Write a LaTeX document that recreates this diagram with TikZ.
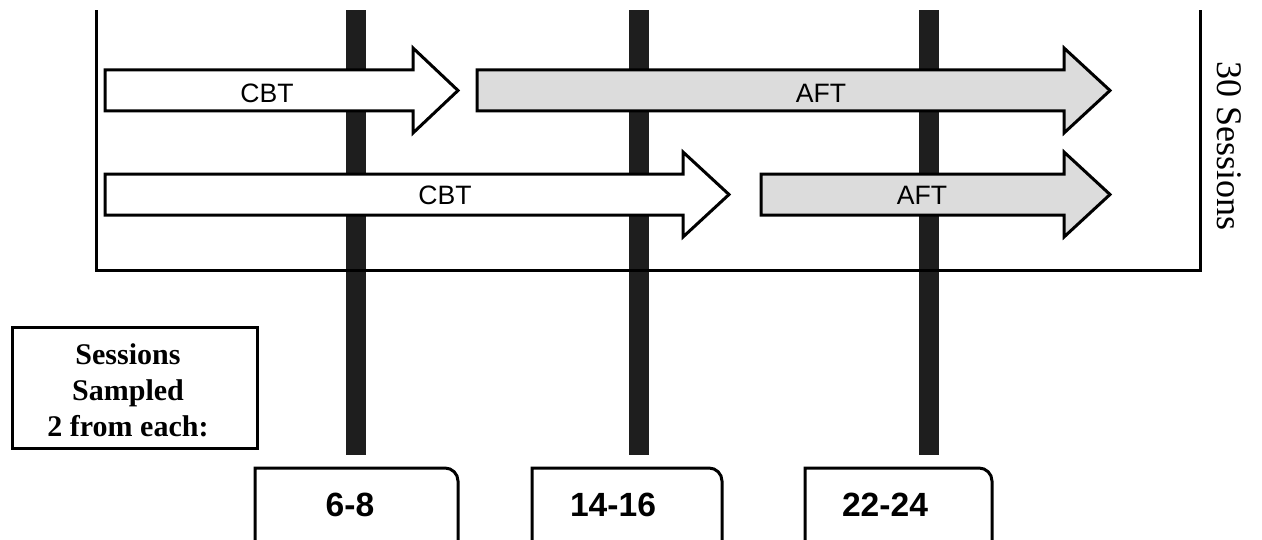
\documentclass[tikz,border=0pt]{standalone}
\usepackage{fontspec}
\setmainfont{Liberation Serif}
\newfontfamily\arialfont{Liberation Sans}
\definecolor{barcol}{HTML}{1E1E1E}
\definecolor{aftfill}{HTML}{DCDCDC}
\tikzset{
  frameline/.style={line width=1.5pt, line cap=rect},
  sessbar/.style={fill=barcol, draw=none},
  phase/.style={draw=black, line width=1.5pt, line join=miter},
  cbtphase/.style={phase, fill=white},
  aftphase/.style={phase, fill=aftfill},
  phaselabel/.style={font=\arialfont\fontsize{13.3}{16}\selectfont, inner sep=0pt},
  rangebox/.style={draw=black, line width=1.5pt, fill=white},
  rangelabel/.style={font=\arialfont\bfseries\fontsize{16.8}{20}\selectfont, inner sep=0pt},
}
% block arrow: start x, head start x, tip x, centre y
\newcommand\phasearrow[5]{%
  \draw[#1] (#2,#5-20.5) -- (#3,#5-20.5) -- (#3,#5-42.5) -- (#4,#5)
    -- (#3,#5+42.5) -- (#3,#5+20.5) -- (#2,#5+20.5) -- cycle;}
% box open at the bottom, with a rounded upper right corner
\newcommand\rangeshape[2]{%
  \draw[rangebox] (#1,560) -- (#1,468) -- (#2-13,468)
    .. controls (#2-5.8,468) and (#2,473.8) .. (#2,481) -- (#2,560);}
\begin{document}
\begin{tikzpicture}[x=0.5pt, y=-0.5pt]
\useasboundingbox (0,0) rectangle (1262,540);
\clip (0,0) rectangle (1262,540);

% session markers
\foreach \bx in {356,639,929}
  \fill[sessbar] (\bx-10,10) rectangle (\bx+10,455);

% treatment frame
\draw[frameline] (96,12) -- (96,270) -- (1200,270) -- (1200,12);
\node[rotate=-90, inner sep=0pt, font=\fontsize{18}{21}\selectfont] (total) at (1229,146) {30 Sessions};

% first sequence
\phasearrow{cbtphase}{105}{413}{458}{90.5}
\node[phaselabel] (cbtA) at (267,93) {CBT};
\phasearrow{aftphase}{477}{1064}{1110}{90.5}
\node[phaselabel] (aftA) at (821,93) {AFT};

% second sequence
\phasearrow{cbtphase}{105}{683}{729}{194.5}
\node[phaselabel] (cbtB) at (445,195) {CBT};
\phasearrow{aftphase}{761}{1064}{1110}{194.5}
\node[phaselabel] (aftB) at (922,195) {AFT};

% sampling note
\draw[line width=1.5pt] (12,327) rectangle (257,448);
\node[align=center, inner sep=0pt, font=\bfseries\fontsize{15}{18}\selectfont] (note) at (128,390)
  {Sessions\\Sampled\\2 from each:};

% sampled session ranges
\rangeshape{255}{458}
\node[rangelabel] (r1) at (350,505) {6-8};
\rangeshape{532}{722}
\node[rangelabel] (r2) at (613,505) {14-16};
\rangeshape{805}{992}
\node[rangelabel] (r3) at (885,505) {22-24};
\end{tikzpicture}
\end{document}
